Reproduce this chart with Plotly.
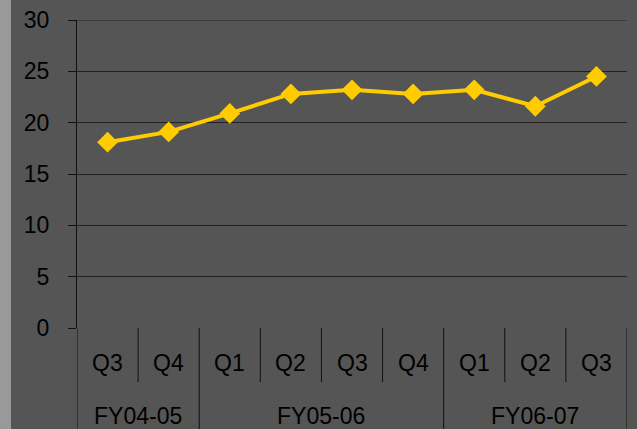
import plotly.graph_objects as go

fiscal_years = ["FY04-05", "FY04-05", "FY05-06", "FY05-06", "FY05-06", "FY05-06", "FY06-07", "FY06-07", "FY06-07"]
quarters = ["Q3", "Q4", "Q1", "Q2", "Q3", "Q4", "Q1", "Q2", "Q3"]
values = [18.1, 19.1, 20.9, 22.8, 23.2, 22.8, 23.2, 21.6, 24.5]
y_ticks = [0, 5, 10, 15, 20, 25, 30]

n = len(quarters)
xs = list(range(n))
plot_h = 429 - 20 - 101
line_col = "#111111"
fsize = 23

fig = go.Figure()
fig.add_trace(go.Scatter(
    x=xs, y=values, mode="lines+markers",
    line=dict(color="#FFCC00", width=4),
    marker=dict(symbol="diamond", size=16, color="#FFCC00"),
    showlegend=False, cliponaxis=False,
))

shapes = [dict(type="rect", xref="paper", yref="paper", x0=-77/550, x1=-66/550, y0=-2, y1=2,
               fillcolor="#999999", line=dict(width=0), layer="below"),
          dict(type="line", xref="paper", yref="y", x0=-8/550, x1=1, y0=y_ticks[-1], y1=y_ticks[-1],
               line=dict(color="#222222", width=1), layer="below")]
annotations = []

for i, q in enumerate(quarters):
    annotations.append(dict(x=i, y=0, xref="x", yref="paper", text=q, showarrow=False,
                            yanchor="middle", yshift=-35, font=dict(size=fsize, color="#000000")))
groups = []
for i, fy in enumerate(fiscal_years):
    if not groups or groups[-1][0] != fy:
        groups.append([fy, i, i])
    else:
        groups[-1][2] = i
group_edges = set()
for fy, a, b in groups:
    group_edges.add(a - 0.5)
    group_edges.add(b + 0.5)
    annotations.append(dict(x=(a + b) / 2, y=0, xref="x", yref="paper", text=fy, showarrow=False,
                            yanchor="middle", yshift=-88, font=dict(size=fsize, color="#000000")))
for i in range(n + 1):
    xb = i - 0.5
    y0 = -0.5 if xb in group_edges else -54 / plot_h
    shapes.append(dict(type="line", xref="x", yref="paper", x0=xb, x1=xb, y0=y0, y1=0,
                       line=dict(color=line_col, width=1)))

fig.update_layout(
    width=637, height=429,
    margin=dict(l=77, r=10, t=20, b=101, autoexpand=False),
    paper_bgcolor="#555555", plot_bgcolor="#555555",
    font=dict(family="Liberation Sans, Arial, sans-serif", size=fsize, color="#000000"),
    xaxis=dict(
        range=[-0.5, n - 0.5], showgrid=False, showline=False, showticklabels=False,
        zeroline=False, fixedrange=True,
    ),
    yaxis=dict(
        range=[0, 30], tickvals=y_ticks, showgrid=True, gridcolor="#222222", gridwidth=1,
        showline=True, linecolor=line_col, linewidth=1, ticks="outside", ticklen=8,
        tickcolor=line_col, zeroline=False, ticklabelstandoff=14, automargin=False,
    ),
    shapes=shapes,
    annotations=annotations,
)

fig.write_html(
    "out.html",
    config={"displayModeBar": False},
    post_script="document.body.style.margin='0';document.body.style.padding='0';"
                "document.body.style.background='#555555';document.body.style.overflow='hidden';",
)
